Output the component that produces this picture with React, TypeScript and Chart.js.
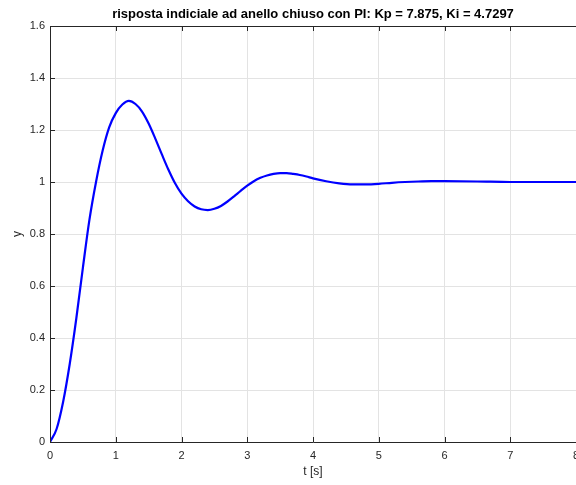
import React, { useEffect, useRef } from "react";
import { Chart, registerables } from "chart.js";

Chart.register(...registerables);

const titleText = "risposta indiciale ad anello chiuso con PI: Kp = 7.875, Ki = 4.7297";
const xLabel = "t [s]";
const yLabel = "y";

const xTickLabels = ["0", "1", "2", "3", "4", "5", "6", "7", "8"];
const yTickLabels = ["0", "0.2", "0.4", "0.6", "0.8", "1", "1.2", "1.4", "1.6"];

const times = [
  0, 0.1, 0.2, 0.3, 0.4, 0.5, 0.6, 0.7, 0.8, 0.9,
  1.0, 1.1, 1.2, 1.3, 1.4, 1.5, 1.6, 1.7, 1.8, 1.9,
  2.0, 2.1, 2.2, 2.3, 2.4, 2.5, 2.6, 2.7, 2.8, 2.9,
  3.0, 3.1, 3.2, 3.3, 3.4, 3.5, 3.6, 3.7, 3.8, 3.9,
  4.0, 4.2, 4.4, 4.6, 4.8, 5.0, 5.2, 5.4, 5.6, 5.8,
  6.0, 6.5, 7.0, 7.5, 8.0,
];
const response = [
  0, 0.05, 0.155, 0.3, 0.475, 0.67, 0.855, 1.0, 1.12, 1.21,
  1.265, 1.298, 1.312, 1.3, 1.271, 1.225, 1.168, 1.107, 1.048, 0.996,
  0.955, 0.926, 0.906, 0.895, 0.892, 0.897, 0.908, 0.925, 0.945, 0.966,
  0.986, 1.003, 1.016, 1.025, 1.031, 1.034, 1.034, 1.031, 1.027, 1.021,
  1.014, 1.003, 0.995, 0.991, 0.991, 0.993, 0.997, 1.0, 1.002, 1.003,
  1.003, 1.002, 1.0, 1.0, 1.0,
];

const AXIS_COLOR = "#262626";
const GRID_COLOR = "#e3e3e3";
const FONT = '"Liberation Sans", Arial, Helvetica, sans-serif';

const framePlugin = {
  id: "matlabFrame",
  afterDraw(chart: any) {
    const { ctx, chartArea } = chart;
    const { left, right, top, bottom } = chartArea;
    const xs = chart.scales.x;
    const ys = chart.scales.y;
    ctx.save();
    ctx.strokeStyle = AXIS_COLOR;
    ctx.lineWidth = 1;
    const tl = 5;
    ctx.beginPath();
    ctx.moveTo(left, Math.round(top) + 0.5);
    ctx.lineTo(right, Math.round(top) + 0.5);
    xs.ticks.forEach((t: any) => {
      const px = Math.round(xs.getPixelForValue(t.value)) + 0.5;
      ctx.moveTo(px, bottom);
      ctx.lineTo(px, bottom - tl);
      ctx.moveTo(px, top);
      ctx.lineTo(px, top + tl);
    });
    ys.ticks.forEach((t: any) => {
      const py = Math.round(ys.getPixelForValue(t.value)) + 0.5;
      ctx.moveTo(left, py);
      ctx.lineTo(left + tl, py);
    });
    ctx.stroke();

    ctx.fillStyle = "#000";
    ctx.font = `bold 13px ${FONT}`;
    ctx.textAlign = "center";
    ctx.textBaseline = "alphabetic";
    ctx.fillText(titleText, (left + right) / 2, 18);

    ctx.fillStyle = AXIS_COLOR;
    ctx.font = `12px ${FONT}`;
    ctx.textBaseline = "middle";
    ctx.fillText(xLabel, (left + right) / 2, 472);
    ctx.translate(18, (top + bottom) / 2);
    ctx.rotate(-Math.PI / 2);
    ctx.fillText(yLabel, 0, 0);
    ctx.restore();
  },
};

export default function App() {
  const ref = useRef<HTMLCanvasElement | null>(null);

  useEffect(() => {
    if (!ref.current) return;
    const points = times.map((t, i) => ({ x: t, y: response[i] }));
    const chart = new Chart(ref.current, {
      type: "line",
      data: {
        datasets: [
          {
            data: points,
            borderColor: "#0000ff",
            borderWidth: 2.2,
            pointRadius: 0,
            fill: false,
            cubicInterpolationMode: "monotone",
          },
        ],
      },
      options: {
        responsive: false,
        animation: false,
        layout: { padding: { top: 26, right: 0, left: 0, bottom: 0 } },
        plugins: {
          legend: { display: false },
          title: { display: false },
          tooltip: { enabled: false },
        },
        scales: {
          x: {
            type: "linear",
            min: 0,
            max: 8,
            ticks: {
              stepSize: 1,
              padding: 7,
              color: AXIS_COLOR,
              font: { family: FONT, size: 11 },
              maxRotation: 0,
              autoSkip: false,
              callback: (_v: any, i: number) => xTickLabels[i],
            },
            grid: { color: GRID_COLOR, drawTicks: false },
            border: { color: AXIS_COLOR, width: 1 },
            afterFit: (scale: any) => {
              scale.height = 43;
              scale.paddingLeft = 0;
              scale.paddingRight = 0;
            },
          },
          y: {
            type: "linear",
            min: 0,
            max: 1.6,
            ticks: {
              stepSize: 0.2,
              padding: 5,
              color: AXIS_COLOR,
              font: { family: FONT, size: 11 },
              autoSkip: false,
              callback: (_v: any, i: number) => yTickLabels[i],
            },
            grid: { color: GRID_COLOR, drawTicks: false },
            border: { color: AXIS_COLOR, width: 1 },
            afterFit: (scale: any) => {
              scale.width = 50;
              scale.paddingTop = 0;
              scale.paddingBottom = 0;
            },
          },
        },
      },
      plugins: [framePlugin],
    } as any);
    return () => chart.destroy();
  }, []);

  return (
    <canvas
      ref={ref}
      width={576}
      height={485}
      style={{ position: "fixed", left: 0, top: 0, width: 576, height: 485, background: "#fff" }}
    />
  );
}
